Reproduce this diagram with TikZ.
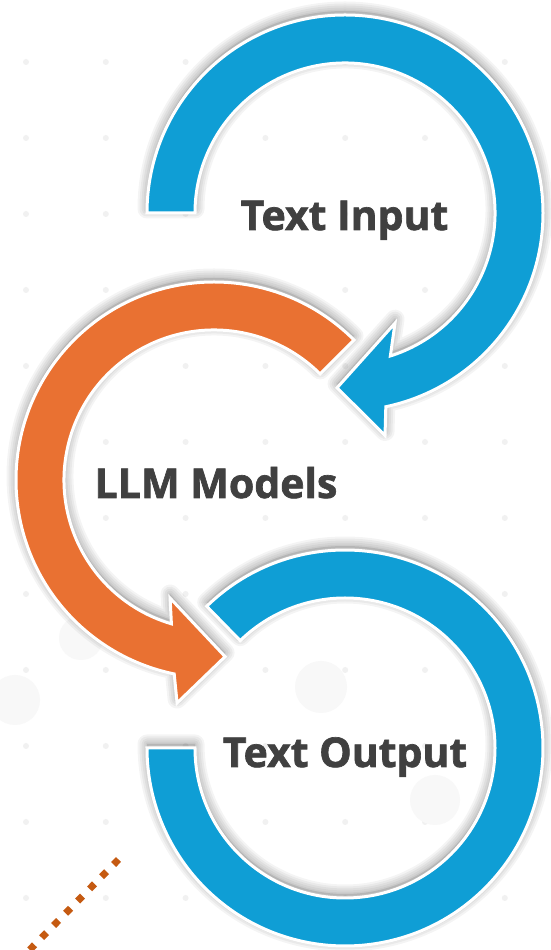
\documentclass[tikz,border=0pt]{standalone}
\usepackage{fontspec}
\setmainfont{Open Sans}
\newfontfamily\heavyfont{Open Sans}[BoldFeatures={FakeBold=1.6}]
\definecolor{ablue}{HTML}{0F9ED5}
\definecolor{aorange}{HTML}{E97132}
\definecolor{adot}{HTML}{C55A11}
\definecolor{atext}{HTML}{404040}
\definecolor{bgdot}{HTML}{F1F1F1}
\definecolor{bgcirc}{HTML}{F8F8F8}
\tikzset{
  shadowlayer/.style={draw=black, line join=round, opacity=0.045},
  shadowfill/.style={fill=black, opacity=0.10},
  ringshape/.style={draw=white, line width=3pt, line join=miter},
  lbl/.style={font=\heavyfont\fontsize{41}{41}\selectfont\bfseries, text=atext, inner sep=0pt, anchor=base},
  dotline/.style={draw=adot, line width=7pt, dash pattern=on 7pt off 10.1pt, line cap=butt}
}
\def\pathtop{(180:198) arc[start angle=180, end angle=-78.1, radius=198] -- (-79.8:226) -- (-92.6:175) -- (-65.6:121) -- (-72.4:150) arc[start angle=-72.4, end angle=180, radius=150] -- cycle}
\def\pathmid{(45:198) arc[start angle=45, end angle=258.4, radius=198] -- (260.6:226) -- (273.6:177) -- (249.6:126) -- (253.5:150) arc[start angle=253.5, end angle=45, radius=150] -- cycle}
\def\pathbot{(134.3:198) arc[start angle=134.3, end angle=-180, radius=198] -- (-180:150) arc[start angle=-180, end angle=134.3, radius=150] -- cycle}
\newcommand\myshadow[3]{%
  \begin{scope}[shift={(#1,#2)}]
    \draw[shadowlayer, line width=3pt] #3;
    \draw[shadowlayer, line width=7pt] #3;
    \draw[shadowlayer, line width=11pt] #3;
    \draw[shadowlayer, line width=15pt] #3;
    \draw[shadowlayer, line width=19pt] #3;
    \fill[shadowfill] #3;
  \end{scope}}
\begin{document}
\begin{tikzpicture}[x=1pt,y=1pt]
\useasboundingbox (0,0) rectangle (550,950);
\fill[white] (0,0) rectangle (550,950);
% faint background
\foreach \i in {0,...,6}
  \foreach \j in {0,...,11}
    \fill[bgdot] (26+79.8*\i, 950-62-76*\j) circle (3);
\fill[bgcirc] (321,263) circle (26);
\fill[bgcirc] (15,250) circle (25);
\fill[bgcirc] (435,150) circle (25);
\fill[bgcirc] (81,312) circle (22);
% shadows
\myshadow{345}{741}{\pathtop}
\myshadow{214}{474}{\pathmid}
\myshadow{345}{206}{\pathbot}
% shapes
\begin{scope}[shift={(345,737)}]
  \draw[ringshape, fill=ablue] \pathtop;
\end{scope}
\begin{scope}[shift={(214,470)}]
  \draw[ringshape, fill=aorange] \pathmid;
\end{scope}
\begin{scope}[shift={(345,202)}]
  \draw[ringshape, fill=ablue] \pathbot;
\end{scope}
% labels
\node[lbl] (tin) at (344.5,720) {Text Input};
\node[lbl] (llm) at (216,452) {LLM Models};
\node[lbl] (tout) at (345,183) {Text Output};
% dotted line
\coordinate (ds) at (118.5,90.5);
\coordinate (de) at (6.3,-23.6);
\draw[dotline] (ds) -- (de);
\end{tikzpicture}
\end{document}
